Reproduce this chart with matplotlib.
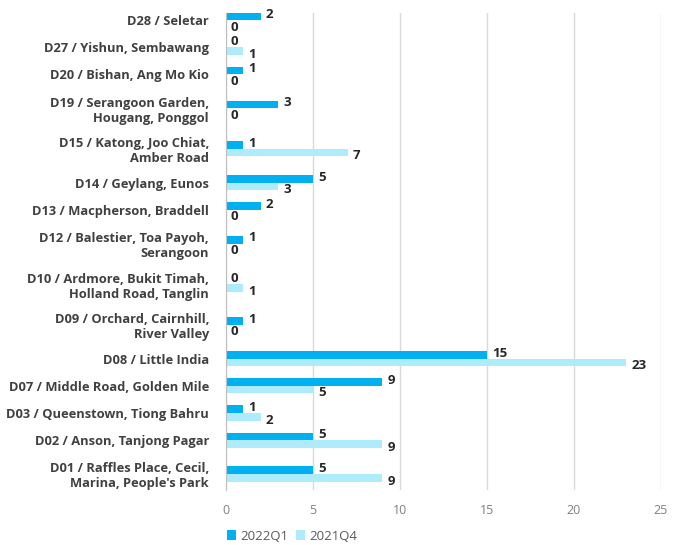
import matplotlib.pyplot as plt
import numpy as np

plt.rcParams['font.family'] = ['Open Sans', 'DejaVu Sans']

districts = [
    "D28 / Seletar",
    "D27 / Yishun, Sembawang",
    "D20 / Bishan, Ang Mo Kio",
    "D19 / Serangoon Garden,\nHougang, Ponggol",
    "D15 / Katong, Joo Chiat,\nAmber Road",
    "D14 / Geylang, Eunos",
    "D13 / Macpherson, Braddell",
    "D12 / Balestier, Toa Payoh,\nSerangoon",
    "D10 / Ardmore, Bukit Timah,\nHolland Road, Tanglin",
    "D09 / Orchard, Cairnhill,\nRiver Valley",
    "D08 / Little India",
    "D07 / Middle Road, Golden Mile",
    "D03 / Queenstown, Tiong Bahru",
    "D02 / Anson, Tanjong Pagar",
    "D01 / Raffles Place, Cecil,\nMarina, People's Park",
]
q1_2022 = [2, 0, 1, 3, 1, 5, 2, 1, 0, 1, 15, 9, 1, 5, 5]
q4_2021 = [0, 1, 0, 0, 7, 3, 0, 0, 1, 0, 23, 5, 2, 9, 9]

c1 = "#00B0F0"
c2 = "#AEEBFC"

# rows with two-line labels get more room, like in the original
rows = np.array([1 + 0.5 * d.count("\n") for d in districts])
y = np.cumsum(rows) - rows / 2

fig = plt.figure(figsize=(6.82, 5.45), dpi=100)
ax = fig.add_axes((0.331, 0.101, 0.638, 0.875))

h = 0.28
ax.barh(y - h / 2, q1_2022, height=h, color=c1, label="2022Q1", zorder=3)
ax.barh(y + h / 2, q4_2021, height=h, color=c2, label="2021Q4", zorder=3)

for yi, v in zip(y, q1_2022):
    ax.text(v + 0.3, yi - h / 2 - 0.07, str(v), ha="left", va="center",
            fontsize=9.5, fontweight="bold", color="#262626")
for yi, v in zip(y, q4_2021):
    ax.text(v + 0.3, yi + h / 2 + 0.12, str(v), ha="left", va="center",
            fontsize=9.5, fontweight="bold", color="#262626")

ax.set_yticks(y)
ax.set_yticklabels(districts, fontsize=9.3, fontweight="bold", color="#404040",
                   linespacing=1.2)
ax.set_ylim(rows.sum() - 0.16, 0.24)
ax.set_xlim(0, 25)
ax.set_xticks([0, 5, 10, 15, 20, 25])
ax.tick_params(axis="x", colors="#808080", labelsize=9, length=0, pad=10)
ax.tick_params(axis="y", length=0, pad=12)

ax.grid(axis="x", color="#D9D9D9", linewidth=1, zorder=0)
for s in ["top", "right", "bottom"]:
    ax.spines[s].set_visible(False)
ax.spines["left"].set_color("#BFBFBF")
ax.spines["left"].set_zorder(4)

ax.legend(loc="upper left", bbox_to_anchor=(-0.01, -0.072), ncol=2, frameon=False,
          fontsize=9.5, handlelength=0.7, handleheight=0.7, handletextpad=0.3,
          columnspacing=0.6, labelcolor="#595959", borderaxespad=0)

plt.savefig("out.png")
